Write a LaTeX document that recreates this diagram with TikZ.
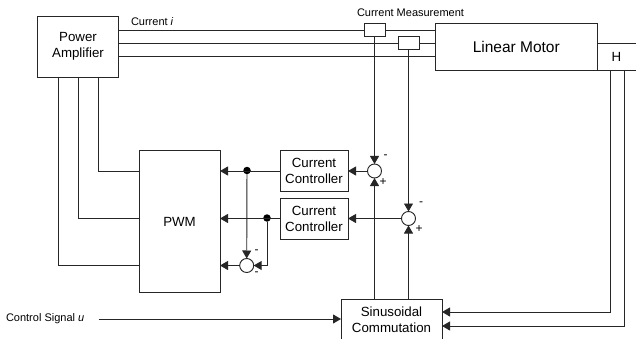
\documentclass[tikz,border=0pt]{standalone}
\usepackage{fontspec}
\setmainfont{Liberation Sans}
\usetikzlibrary{arrows.meta}
\tikzset{
  line/.style={draw=black!85,line width=0.95pt},
  arr/.style={line,-{Triangle[length=8pt,width=9pt]}},
  box/.style={draw=black!85,line width=0.95pt,inner sep=0pt,outer sep=0pt,align=center,font=\fontsize{13.3}{16}\selectfont},
  plain/.style={inner sep=0pt,outer sep=0pt,align=center,font=\fontsize{13.3}{16}\selectfont},
  lab/.style={inner sep=0pt,outer sep=0pt,font=\fontsize{11}{13}\selectfont},
  sign/.style={inner sep=0pt,outer sep=0pt,font=\fontsize{12}{13}\selectfont},
  sumc/.style={circle,draw=black!85,line width=0.95pt,minimum size=14pt,inner sep=0pt,outer sep=0pt},
  dot/.style={circle,fill=black,minimum size=7.5pt,inner sep=0pt,outer sep=0pt}
}
\begin{document}
\begin{tikzpicture}[x=1pt,y=-1pt]
\useasboundingbox (0,0) rectangle (636,339);
% blocks
\node[box,minimum width=81pt,minimum height=61pt] (amp) at (78,46.5) {Power\\Amplifier};
\node[box,minimum width=161.5pt,minimum height=47pt,font=\fontsize{15.5}{18}\selectfont] (motor) at (516.25,46.5) {Linear Motor};
\node[plain,minimum width=39pt,minimum height=27pt] (hall) at (616.5,56.5) {H};
\draw[line] (hall.north west) -- (hall.north east);
\draw[line] (hall.south west) -- (hall.south east);
\node[box,minimum width=21pt,minimum height=13pt] (s1) at (374.5,30) {};
\node[box,minimum width=21pt,minimum height=13pt] (s2) at (408.5,43) {};
\node[box,minimum width=81pt,minimum height=142pt] (pwm) at (179.5,221.5) {PWM};
\node[box,minimum width=68pt,minimum height=41pt] (cc1) at (314,171) {Current\\Controller};
\node[box,minimum width=68pt,minimum height=41pt] (cc2) at (314,218.5) {Current\\Controller};
\node[plain,minimum width=101pt,minimum height=40pt] (comm) at (391.5,319.5) {Sinusoidal\\Commutation};
\draw[line] (comm.south west) -- (comm.north west) -- (comm.north east) -- (comm.south east);
\node[sumc] (sum1) at (374.5,171) {};
\node[sumc] (sum2) at (408.5,218.5) {};
\node[sumc] (sum3) at (246.7,265.5) {};
\node[dot] (d1) at (247,170.5) {};
\node[dot] (d2) at (267,218) {};
% labels
\node[lab,anchor=west] (li) at (131,22) {Current \textit{i}};
\node[lab,anchor=center] (lm) at (410.5,12.5) {Current Measurement};
\node[lab,anchor=west] (lu) at (6,319) {Control Signal \textit{u}};
\node[sign] (m1) at (385.7,157) {-};
\node[sign] (p1) at (383,182.5) {+};
\node[sign] (m2) at (421,204) {-};
\node[sign] (p2) at (419,229) {+};
\node[sign] (m3) at (256.7,252) {-};
\node[sign] (m4) at (256.7,274) {-};
% free ends
\coordinate (r1) at (0,30);
\coordinate (r2) at (0,43);
\coordinate (r3) at (0,56.5);
\coordinate (u0) at (98.5,319);
\coordinate (a1) at (98,77);
\coordinate (a2) at (78,77);
\coordinate (a3) at (58,77);
\coordinate (h1) at (610.5,70);
\coordinate (h2) at (624,70);
\coordinate (c1) at (442,312);
\coordinate (c2) at (442,326);
% amplifier to motor
\draw[line] (amp.east |- r1) -- (s1.west);
\draw[line] (s1.east) -- (motor.west |- r1);
\draw[line] (amp.east |- r2) -- (s2.west);
\draw[line] (s2.east) -- (motor.west |- r2);
\draw[line] (amp.east |- r3) -- (motor.west |- r3);
% amplifier to PWM
\draw[line] (a1) |- (pwm.west |- cc1);
\draw[line] (a2) |- (pwm.west |- cc2);
\draw[line] (a3) |- (pwm.west |- sum3);
% measurement
\draw[arr] (s1.south) -- (sum1.north);
\draw[arr] (s2.south) -- (sum2.north);
% feedback from commutation
\draw[arr] (comm.north -| sum1) -- (sum1.south);
\draw[arr] (comm.north -| sum2) -- (sum2.south);
% forward paths
\draw[arr] (sum1.west) -- (cc1.east);
\draw[arr] (sum2.west) -- (cc2.east);
\draw[arr] (cc1.west) -- (pwm.east |- cc1);
\draw[arr] (cc2.west) -- (pwm.east |- cc2);
\draw[arr] (d1) -- (sum3.north);
\draw[arr] (d2) |- (sum3.east);
\draw[arr] (sum3.west) -- (pwm.east |- sum3);
% commutation inputs
\draw[arr] (h1) |- (c1);
\draw[arr] (h2) |- (c2);
\draw[arr] (u0) -- (comm.west |- u0);
\end{tikzpicture}
\end{document}
